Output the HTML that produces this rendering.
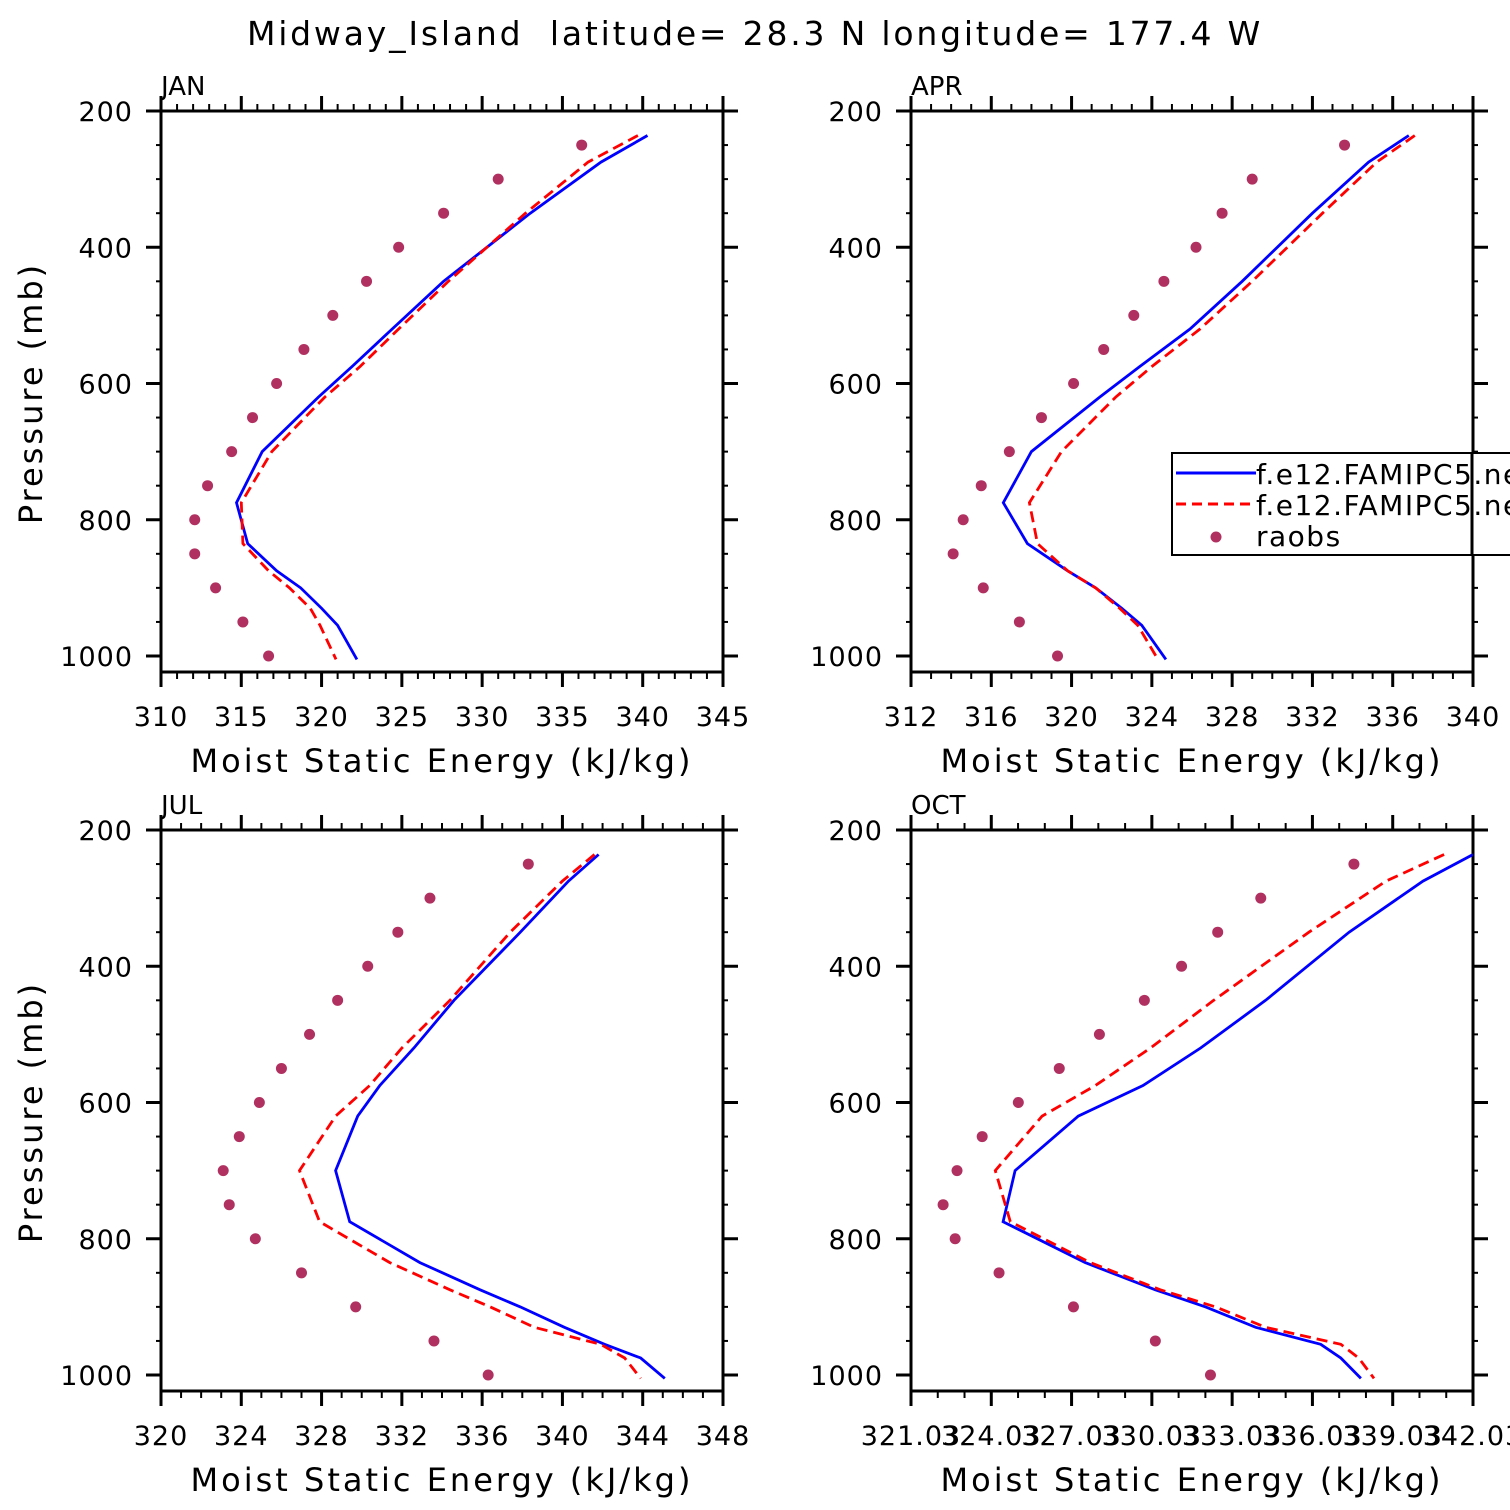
<!DOCTYPE html>
<html><head><meta charset="utf-8"><style>
body{margin:0;background:#fff}
svg{display:block;font-family:"DejaVu Sans","Liberation Sans",sans-serif}
</style></head><body>
<svg id="c" width="1510" height="1510" xmlns="http://www.w3.org/2000/svg">
<text x="755" y="45" font-size="33" letter-spacing="2.8" text-anchor="middle" xml:space="preserve">Midway_Island  latitude= 28.3 N longitude= 177.4 W</text>
</svg>
<script>
const levels=[236,275,350,450,520,575,620,700,775,835,875,900,930,955,1005];
const levelsJul=[236,275,350,450,520,575,620,700,775,835,875,900,930,955,975,1005];
const obsP=[250,300,350,400,450,500,550,600,650,700,750,800,850,900,950,1000];
const janBlue=[340.3,337.4,333.0,327.6,324.4,321.9,319.8,316.3,314.7,315.4,317.2,318.7,320.0,321.0,322.2];
const janRed=[339.7,336.6,332.7,327.9,324.8,322.4,320.2,316.9,315.0,315.1,316.7,318.0,319.3,319.9,320.9];
const janObs=[336.2,331.0,327.6,324.8,322.8,320.7,318.9,317.2,315.7,314.4,312.9,312.1,312.1,313.4,315.1,316.7];
const aprBlue=[336.8,334.8,332.0,328.5,325.9,323.4,321.4,318.0,316.6,317.8,319.8,321.2,322.5,323.5,324.7];
const aprRed=[337.1,335.2,332.5,329.0,326.4,324.0,322.2,319.5,317.9,318.3,319.8,321.2,322.4,323.3,324.3];
const aprObs=[333.6,329.0,327.5,326.2,324.6,323.1,321.6,320.1,318.5,316.9,315.5,314.6,314.1,315.6,317.4,319.3];
const julBlue=[341.8,340.3,337.9,334.6,332.6,330.9,329.8,328.7,329.4,332.9,335.9,337.9,340.1,342.1,343.9,345.1];
const julRed=[341.6,340.0,337.4,334.4,332.0,330.4,328.7,326.9,327.9,331.4,334.4,336.4,338.6,341.9,343.1,343.9];
const julObs=[338.3,333.4,331.8,330.3,328.8,327.4,326.0,324.9,323.9,323.1,323.4,324.7,327.0,329.7,333.6,336.3];
const octBlue=[342.03,340.16,337.4,334.28,331.85,329.7,327.28,324.92,324.47,327.54,330.16,332.04,333.91,336.34,337.09,337.84];
const octRed=[340.95,338.78,335.9,332.34,329.98,327.92,325.93,324.18,324.74,327.73,330.35,332.41,334.28,337.09,337.76,338.33];
const octObs=[337.58,334.10,332.49,331.14,329.75,328.07,326.57,325.04,323.69,322.75,322.23,322.68,324.32,327.10,330.16,332.22];
const janTicks=["310","315","320","325","330","335","340","345"];
const aprTicks=["312","316","320","324","328","332","336","340"];
const julTicks=["320","324","328","332","336","340","344","348"];
const octTicks=["321.03","324.03","327.03","330.03","333.03","336.03","339.03","342.03"];
const pTicks=[200,400,600,800,1000];

const NS="http://www.w3.org/2000/svg";
const svg=document.getElementById('c');
function mk(t,a,p){const e=document.createElementNS(NS,t);for(const k in a)e.setAttribute(k,a[k]);(p||svg).appendChild(e);return e;}
const panels=[
 {n:'jan',label:'JAN',x0:161,y0:111,lo:310,hi:345,minor:1,ticks:janTicks,lv:levels,b:janBlue,r:janRed,o:janObs,ylab:true},
 {n:'apr',label:'APR',x0:911,y0:111,lo:312,hi:340,minor:1,ticks:aprTicks,lv:levels,b:aprBlue,r:aprRed,o:aprObs,ylab:false,legend:true},
 {n:'jul',label:'JUL',x0:161,y0:830,lo:320,hi:348,minor:1,ticks:julTicks,lv:levelsJul,b:julBlue,r:julRed,o:julObs,ylab:true},
 {n:'oct',label:'OCT',x0:911,y0:830,lo:321.03,hi:342.03,minor:1,ticks:octTicks,lv:levelsJul,b:octBlue,r:octRed,o:octObs,ylab:false}
];
const W=562,H=561,pk=545/800;
panels.forEach(P=>{
 const g=mk('g',{});
 
 
 const X=v=>P.x0+(v-P.lo)/(P.hi-P.lo)*W;
 const Y=p=>P.y0+(p-200)*pk;
 const cp=mk('clipPath',{id:'cl'+P.n},g);mk('rect',{x:P.x0,y:P.y0,width:W,height:H},cp);
 for(let p=200;p<=1000;p+=50){const maj=p%200===0;const l=maj?15:5;const y=Y(p);
  mk('line',{x1:P.x0-l,x2:P.x0,y1:y,y2:y,stroke:'#000','stroke-width':maj?3:2},g);
  mk('line',{x1:P.x0+W,x2:P.x0+W+l,y1:y,y2:y,stroke:'#000','stroke-width':maj?3:2},g);}
 pTicks.forEach(p=>{const t=mk('text',{x:P.x0-28,y:Y(p)+10,'font-size':27,'letter-spacing':1,'text-anchor':'end'},g);t.textContent=p;
  });
 const step=(P.hi-P.lo)/7;
 for(let v=P.lo;v<=P.hi+1e-6;v+=P.minor){const k=(v-P.lo)/step;const maj=Math.abs(k-Math.round(k))<1e-6;const l=maj?15:7;const x=X(v);
  mk('line',{x1:x,x2:x,y1:P.y0+H,y2:P.y0+H+l,stroke:'#000','stroke-width':maj?3:2},g);
  mk('line',{x1:x,x2:x,y1:P.y0-l,y2:P.y0,stroke:'#000','stroke-width':maj?3:2},g);}
 P.ticks.forEach((s,i)=>{const t=mk('text',{x:X(P.lo+i*step),y:P.y0+H+54,'font-size':27,'letter-spacing':1,'text-anchor':'middle'},g);t.textContent=s;
  });
 mk('rect',{x:P.x0,y:P.y0,width:W,height:H,fill:'none',stroke:'#000','stroke-width':3},g);
 const pl=mk('text',{x:P.x0,y:P.y0-16,'font-size':26},g);pl.textContent=P.label;
 
 const xl=mk('text',{x:P.x0+W/2,y:P.y0+H+100,'font-size':32,'letter-spacing':3,'text-anchor':'middle'},g);xl.textContent='Moist Static Energy (kJ/kg)';
 
 if(P.ylab){const yl=mk('text',{x:0,y:0,'font-size':32,'letter-spacing':3,'text-anchor':'middle',transform:`translate(42,${P.y0+282}) rotate(-90)`},g);yl.textContent='Pressure (mb)';
  }
 const cg=mk('g',{'clip-path':`url(#cl${P.n})`},g);
 const pts=a=>a.map((v,i)=>X(v).toFixed(1)+','+Y(P.lv[i]).toFixed(1)).join(' ');
 const bl=mk('polyline',{points:pts(P.b),fill:'none',stroke:'#0000ff','stroke-width':2.8},cg);
 
 const rl=mk('polyline',{points:pts(P.r),fill:'none',stroke:'#ff0000','stroke-width':2.8,'stroke-dasharray':'11,6'},cg);
 
 P.o.forEach((v,i)=>{const c=mk('circle',{cx:X(v),cy:Y(obsP[i]),r:5.5,fill:'#b03060'},cg);
  });
 if(P.legend){const lg=mk('g',{},svg);
  
  mk('rect',{x:1172,y:453,width:360,height:102,fill:'#fff',stroke:'#000','stroke-width':2},lg);
  mk('line',{x1:1176,x2:1256,y1:473,y2:473,stroke:'#0000ff','stroke-width':3},lg);
  mk('line',{x1:1176,x2:1256,y1:504,y2:504,stroke:'#ff0000','stroke-width':3,'stroke-dasharray':'10,6'},lg);
  mk('circle',{cx:1216,cy:537,r:5.5,fill:'#b03060'},lg);
  [['f.e12.FAMIPC5.ne30',484],['f.e12.FAMIPC5.ne30',515],['raobs',546]].forEach(([s,y])=>{const t=mk('text',{x:1256,y:y,'font-size':28,'letter-spacing':1.5},lg);t.textContent=s;
   });
  mk('line',{x1:1472,x2:1472,y1:453,y2:555,stroke:'#000','stroke-width':3},lg);}
});
</script>
</body></html>
